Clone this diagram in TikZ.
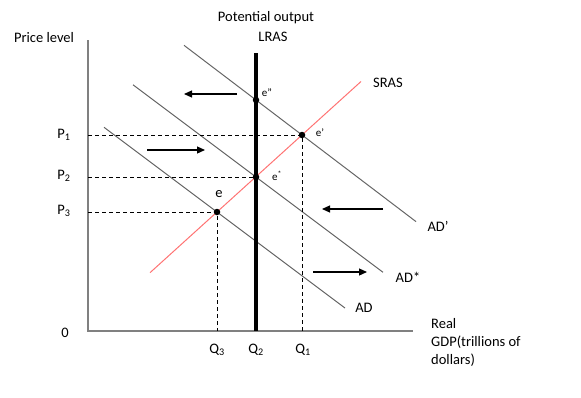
\documentclass[tikz,border=0pt]{standalone}
\usepackage{fontspec}
\setmainfont{Carlito}
\usetikzlibrary{arrows.meta,positioning}

\begin{document}
\begin{tikzpicture}[
        x=1pt, y=-1pt,
        every node/.style={font=\fontsize{14.5}{18}\selectfont, inner sep=0pt},
        axis/.style={draw=black!50, line width=1.3pt},
        curve/.style={draw=black!60, line width=1pt},
        supply/.style={draw=red!55, line width=1pt},
        guide/.style={dash pattern=on 4pt off 3pt, line width=0.9pt},
        move/.style={-{Triangle[length=8pt,width=7pt]}, line width=1.2pt},
        dot/.style={circle, fill=black, minimum size=6.5pt, inner sep=0pt},
        tag/.style={font=\fontsize{11}{13}\selectfont}
    ]
    \useasboundingbox (0,0) rectangle (581,397);

    % Coordinates
    \coordinate (origin) at (88,331);
    \coordinate (ytop) at (88,40);
    \coordinate (xend) at (413,331);
    \coordinate (lrastop) at (256,53);
    \coordinate (lrasbot) at (256,331);
    \coordinate (srasbot) at (150,272.7);
    \coordinate (srastop) at (361,81.5);
    \coordinate (adstart) at (104,127.3);
    \coordinate (adend) at (345,308);
    \coordinate (adsstart) at (133,84.8);
    \coordinate (adsend) at (383,272.3);
    \coordinate (adpstart) at (184,45.3);
    \coordinate (adpend) at (416,221.6);
    \coordinate (pone) at (88,135);
    \coordinate (ptwo) at (88,177);
    \coordinate (pthree) at (88,212);
    \coordinate (qthree) at (217,331);
    \coordinate (qone) at (302,331);

    % Curves
    \draw[axis] (ytop) -- (origin) -- (xend);
    \draw[curve] (adstart) -- (adend);
    \draw[curve] (adsstart) -- (adsend);
    \draw[curve] (adpstart) -- (adpend);
    \draw[supply] (srasbot) -- (srastop);
    \draw[line width=3.5pt] (lrastop) -- (lrasbot);

    % Equilibria
    \node[dot] (e) at (217,212) {};
    \node[dot] (estar) at (256,177) {};
    \node[dot] (eprime) at (302,135) {};
    \node[dot] (edouble) at (256,100) {};

    \draw[guide] (pone) -- (eprime.center) -- (qone);
    \draw[guide] (ptwo) -- (estar.center);
    \draw[guide] (pthree) -- (e.center) -- (qthree);

    % Shifts
    \coordinate (m1s) at (237,94);  \coordinate (m1e) at (184,94);
    \coordinate (m2s) at (147,150); \coordinate (m2e) at (205,150);
    \coordinate (m3s) at (383,209); \coordinate (m3e) at (322,209);
    \coordinate (m4s) at (313,272); \coordinate (m4e) at (367,272);
    \draw[move] (m1s) -- (m1e);
    \draw[move] (m2s) -- (m2e);
    \draw[move] (m3s) -- (m3e);
    \draw[move] (m4s) -- (m4e);

    % Labels
    \node (pricelevel) at (44,38) {Price level};
    \node (potential) at (266,18) {Potential output};
    \node (lras) at (273,37) {LRAS};
    \node (sras) at (388,83) {SRAS};
    \node (adp) at (438,226) {AD'};
    \node (ads) at (408,277) {AD*};
    \node (ad) at (364,308) {AD};
    \node[anchor=north west, align=left] (gdp) at (431,318) {Real\\GDP(trillions of\\dollars)};
    \node (zero) at (65,333) {0};
    \node (lpone) at (64,135) {P\textsubscript{1}};
    \node (lptwo) at (64,176) {P\textsubscript{2}};
    \node (lpthree) at (64,211) {P\textsubscript{3}};
    \node (lqthree) at (217,350) {Q\textsubscript{3}};
    \node (lqtwo) at (256,350) {Q\textsubscript{2}};
    \node (lqone) at (303,350) {Q\textsubscript{1}};
    \node (le) at (219,194) {e};
    \node[tag] (lestar) at (277,176) {e\textsuperscript{*}};
    \node[tag] (leprime) at (320,133) {e'};
    \node[tag] (ledouble) at (267,93) {e''};
\end{tikzpicture}
\end{document}
